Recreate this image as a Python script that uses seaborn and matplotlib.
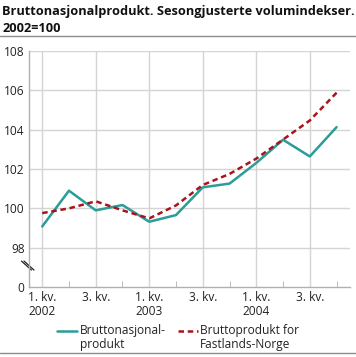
import matplotlib
matplotlib.use("Agg")
import matplotlib.pyplot as plt
import seaborn as sns
import pandas as pd
from matplotlib.lines import Line2D

# Quarterly data 2002-2004
quarters = ["2002K1", "2002K2", "2002K3", "2002K4",
            "2003K1", "2003K2", "2003K3", "2003K4",
            "2004K1", "2004K2", "2004K3", "2004K4"]
bnp = [99.08, 100.90, 99.90, 100.17, 99.32, 99.66,
       101.07, 101.26, 102.31, 103.49, 102.64, 104.13]
fastland = [99.76, 100.00, 100.36, 99.90, 99.49, 100.15,
            101.19, 101.75, 102.53, 103.50, 104.47, 105.88]
xtick_labels = ["1. kv.\n2002", "3. kv.", "1. kv.\n2003",
                "3. kv.", "1. kv.\n2004", "3. kv."]
ytick_labels = ["0", "98", "100", "102", "104", "106", "108"]
series_names = ["Bruttonasjonal-\nprodukt", "Bruttoprodukt for\nFastlands-Norge"]

teal = "#2a9d99"
red = "#a8141a"
dash = (0, (2.2, 1.5))

df = pd.DataFrame({"idx": range(len(quarters)), series_names[0]: bnp,
                   series_names[1]: fastland})

sns.set_style("white")
plt.rcParams['font.family'] = ['Open Sans', 'DejaVu Sans']

fig = plt.figure(figsize=(3.56, 3.57), dpi=100)
ax = fig.add_axes([0.081, 0.196, 0.902, 0.661])

sns.lineplot(data=df, x="idx", y=series_names[0], ax=ax, color=teal, lw=1.8)
sns.lineplot(data=df, x="idx", y=series_names[1], ax=ax, color=red,
             lw=1.8, linestyle=dash)

# broken axis: 0 is drawn at 96
ax.set_ylim(96, 108)
ax.set_yticks([96, 98, 100, 102, 104, 106, 108])
ax.set_yticklabels(ytick_labels)
ax.set_xlim(-0.5, 11.5)
ax.set_xticks([0, 2, 4, 6, 8, 10])
ax.set_xticklabels(xtick_labels, linespacing=1.05)
ax.set_xticks([1, 3, 5, 7, 9, 11], minor=True)
ax.set_xlabel("")
ax.set_ylabel("")

for y in range(98, 109, 2):
    ax.axhline(y, color="#d4d4d4", lw=1, zorder=0)
for x in [0, 2, 4, 6, 8, 10]:
    ax.axvline(x, color="#d4d4d4", lw=1, zorder=0)

for s in ["top", "right"]:
    ax.spines[s].set_visible(False)
for s in ["left", "bottom"]:
    ax.spines[s].set_color("#b0b0b0")
    ax.spines[s].set_linewidth(1)

ax.tick_params(axis="both", which="major", length=0, labelsize=8.6, colors="#222222", pad=3)
ax.tick_params(axis="x", which="minor", direction="in", length=4, color="#b0b0b0", bottom=True)

# axis break marks
for dx in [-0.004, 0.004]:
    ax.plot([-0.019 + dx, 0.012 + dx], [0.110, 0.072], transform=ax.transAxes,
            color="#222222", lw=0.9, clip_on=False)

fig.text(0.006, 0.985, "Bruttonasjonalprodukt. Sesongjusterte volumindekser.\n2002=100",
         fontsize=9.2, fontweight="bold", va="top", ha="left", linespacing=1.4,
         color="#111111")
fig.add_artist(Line2D([0.0, 1.0], [0.900, 0.900], color="#8c8c8c", lw=1))
fig.add_artist(Line2D([0.0, 1.0], [0.012, 0.012], color="#8c8c8c", lw=1))

# legend, handle aligned with the first text line
legend_y = 1 - 331 / 357
for (x0, x1, xt), col, ls, name in zip([(57, 77, 80), (178, 198, 200)], [teal, red],
                                       ["-", dash], series_names):
    fig.add_artist(Line2D([x0 / 356, x1 / 356], [legend_y, legend_y], color=col, lw=1.8,
                          linestyle=ls))
    fig.text(xt / 356, legend_y + 0.02, name, fontsize=8.6, va="top", ha="left",
             linespacing=1.15, color="#222222")

fig.savefig("out.png", dpi=100)
